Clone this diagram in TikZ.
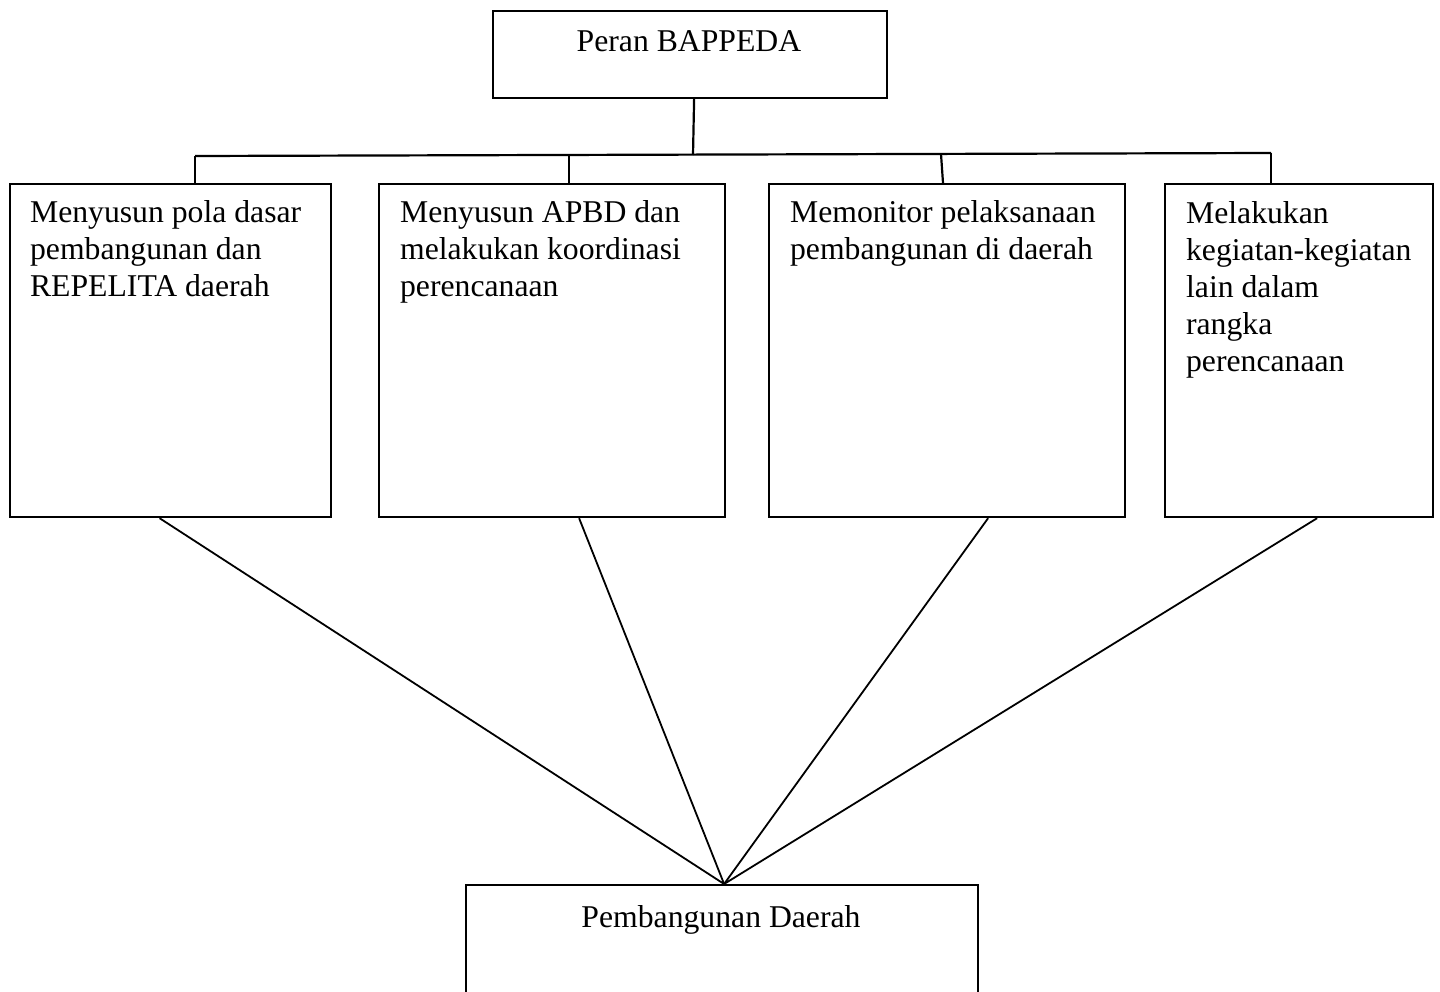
\documentclass[tikz,border=0pt]{standalone}
\usepackage{fontspec}
\setmainfont{Liberation Serif}

\begin{document}
\begin{tikzpicture}[x=1pt, y=-1pt, line width=2.2pt,
  box/.style={draw, rectangle, inner sep=0pt, anchor=north west},
  txt/.style={inner sep=0pt, align=left, anchor=base west, font=\fontsize{31.7}{37}\selectfont}]
\useasboundingbox (0,0) rectangle (1440,992);

\node [box, minimum width=394pt, minimum height=87pt] (p0) at (492,10) {};
\node [txt, anchor=base] (t0) at (689,52) {Peran BAPPEDA};

\node [box, minimum width=321pt, minimum height=333pt] (k1) at (9,183) {};
\node [box, minimum width=346pt, minimum height=333pt] (k2) at (378,183) {};
\node [box, minimum width=356pt, minimum height=333pt] (k3) at (768,183) {};
\node [box, minimum width=268pt, minimum height=333pt] (k4) at (1164,183) {};
% anchor = baseline of last line
\node [txt] (t1) at (29,297) {Menyusun pola dasar\\pembangunan dan\\REPELITA daerah};
\node [txt] (t2) at (399,297) {Menyusun APBD dan\\melakukan koordinasi\\perencanaan};
\node [txt] (t3) at (789,260) {Memonitor pelaksanaan\\pembangunan di daerah};
\node [txt] (t4) at (1185,371) {Melakukan\\kegiatan-kegiatan\\lain dalam\\rangka\\perencanaan};

\node [box, minimum width=512pt, minimum height=140pt] (pd) at (465,884) {};
\node [txt, anchor=base] (t5) at (721,927) {Pembangunan Daerah};

\coordinate (pj) at (693,155);
\coordinate (j1) at (195,156);
\coordinate (j2) at (569,155);
\coordinate (j3) at (941,154);
\coordinate (j4) at (1271,153);

\draw ([xshift=4pt]p0.south) -- (pj);
\draw (j1) -- (j4);
\draw (j1) -- (k1.north -| j1);
\draw (j2) -- (k2.north -| j2);
\draw (j3) -- ([xshift=175pt]k3.north west);
\draw (j4) -- (k4.north -| j4);

\draw[line width=1.8pt] ([xshift=-11pt]k1.south) -- ([xshift=2pt]pd.north);
\draw[line width=1.8pt] ([xshift=27pt]k2.south) -- ([xshift=2pt]pd.north);
\draw[line width=1.8pt] ([xshift=41pt]k3.south) -- ([xshift=2pt]pd.north);
\draw[line width=1.8pt] ([xshift=18pt]k4.south) -- ([xshift=2pt]pd.north);

\end{tikzpicture}
\end{document}
